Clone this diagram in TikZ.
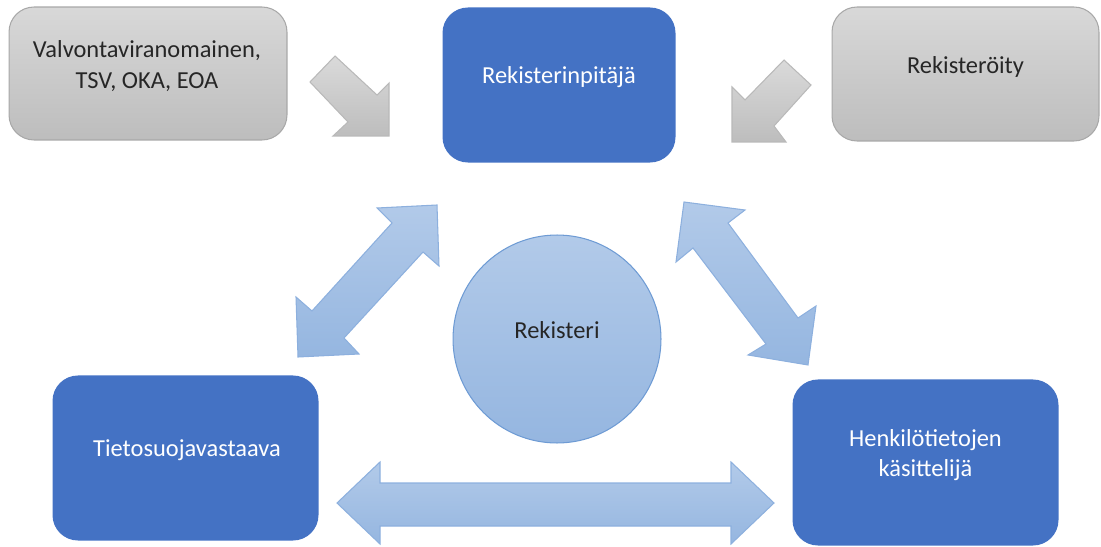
\documentclass[tikz,border=0pt]{standalone}
\usepackage{fontspec}
\setmainfont{Carlito}
\usetikzlibrary{calc}
\definecolor{boxblue}{HTML}{4472C4}
\definecolor{graytop}{RGB}{216,216,216}
\definecolor{graybot}{RGB}{189,189,189}
\definecolor{grayedge}{RGB}{168,168,168}
\definecolor{lbtop}{HTML}{B2CAE9}
\definecolor{lbbot}{HTML}{95B6E0}
\definecolor{lbedge}{HTML}{8DB0DE}
\definecolor{circedge}{HTML}{6E9BD4}
\definecolor{darktext}{HTML}{262626}
\tikzset{
  lbl/.style={font=\fontsize{13.9}{17.5}\selectfont, align=center, inner sep=0pt},
  graybox/.style={draw=grayedge, line width=0.6pt, top color=graytop, bottom color=graybot,
    rounded corners=0.5cm, inner sep=0pt},
  bluebox/.style={draw=boxblue, line width=0.6pt, fill=boxblue, rounded corners=0.5cm, inner sep=0pt},
  grayarrow/.style={draw=grayedge!80!white, line width=0.6pt, top color=graytop!95!white, bottom color=graybot, line join=miter},
  bluearrow/.style={draw=lbedge, line width=0.6pt, top color=lbtop, bottom color=lbbot, line join=miter},
}
\begin{document}
\begin{tikzpicture}[x=0.02cm, y=-0.02cm]
\useasboundingbox (0,0) rectangle (1101,547);

% boxes
\node[graybox, minimum width=5.56cm, minimum height=2.66cm] (valv) at (148,73.5) {};
\node[bluebox, minimum width=4.64cm, minimum height=3.08cm] (pit) at (559,85) {};
\node[graybox, minimum width=5.34cm, minimum height=2.68cm] (rek) at (965.5,74) {};
\node[bluebox, minimum width=5.30cm, minimum height=3.28cm] (tieto) at (185.5,458) {};
\node[bluebox, minimum width=5.30cm, minimum height=3.30cm] (henk) at (925.5,462.5) {};
\node[circle, draw=circedge, line width=0.6pt, top color=lbtop, bottom color=lbbot,
      minimum size=4.16cm, inner sep=0pt] (reg) at (557,339) {};

% texts
\node[lbl, text=darktext] (valvT) at ($(valv.center)+(-1,-7.5)$) {Valvontaviranomainen,\\TSV, OKA, EOA};
\node[lbl, text=white] (pitT) at ($(pit.center)+(0,-8)$) {Rekisterinpitäjä};
\node[lbl, text=darktext] (rekT) at ($(rek.center)+(0,-7)$) {Rekisteröity};
\node[lbl, text=white] (tietoT) at ($(tieto.center)+(1.5,-8)$) {Tietosuojavastaava};
\node[lbl, text=white] (henkT) at ($(henk.center)+(0,-7.5)$) {Henkilötietojen\\käsittelijä};
\node[lbl, text=darktext] (regT) at ($(reg.center)+(0,-9)$) {Rekisteri};

% gray arrows into Rekisterinpitaja
\path[grayarrow] (310,82) -- (335,56) -- (377,95) -- (389,83) -- (389,136) -- (333,136) -- (348,122) -- cycle;
\path[grayarrow] (784,60) -- (811,85) -- (774,126) -- (786,142) -- (732,142) -- (732,87) -- (745,100) -- cycle;

% blue double arrows
\path[bluearrow] (437,205) -- (439,266) -- (423,252) -- (344,338) -- (359,354) -- (298,357)
  -- (296,297) -- (312,311) -- (392,223) -- (377,208) -- cycle;
\path[bluearrow] (684,202) -- (745,210) -- (728,223) -- (798,318) -- (816,306) -- (808,365)
  -- (748,355) -- (766,344) -- (693,248) -- (676,262) -- cycle;
\path[bluearrow] (337,503) -- (380,462) -- (380,483) -- (731,483) -- (731,462) -- (774,503)
  -- (731,544) -- (731,526) -- (380,526) -- (380,544) -- cycle;
\end{tikzpicture}
\end{document}
